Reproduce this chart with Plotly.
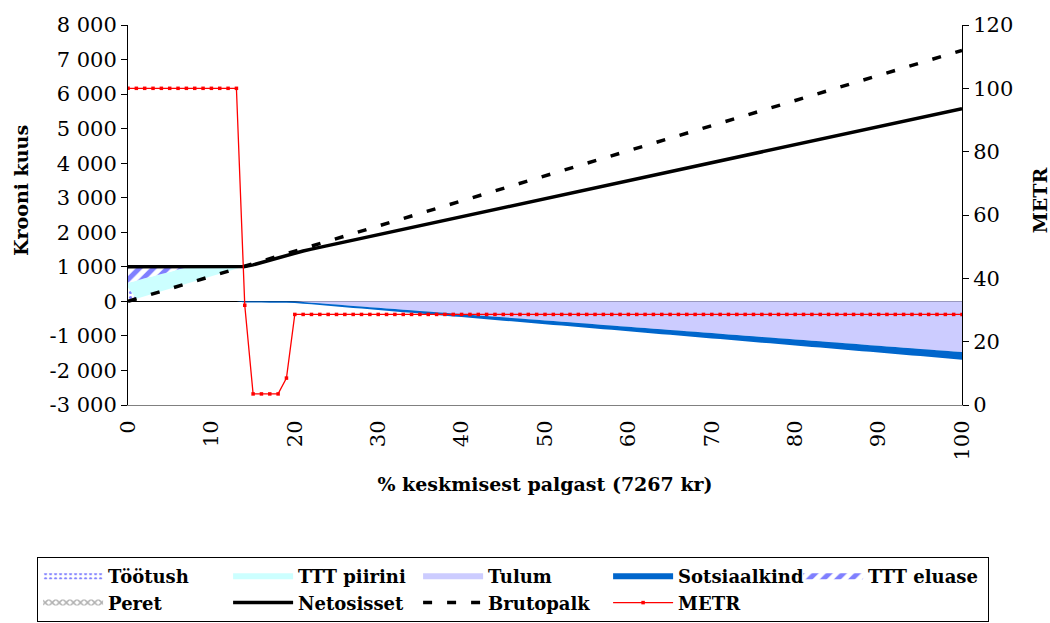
import plotly.graph_objects as go

# x categories: share of the average wage (%), 0..100
pct = list(range(0, 101))

# Gross wage, kroons per month
brutopalk = [
    0, 73, 145, 218, 291, 363, 436, 509, 581, 654,
    727, 799, 872, 945, 1017, 1090, 1163, 1235, 1308, 1381,
    1453, 1526, 1599, 1671, 1744, 1817, 1889, 1962, 2035, 2107,
    2180, 2253, 2325, 2398, 2471, 2543, 2616, 2689, 2761, 2834,
    2907, 2979, 3052, 3125, 3197, 3270, 3343, 3415, 3488, 3561,
    3634, 3706, 3779, 3852, 3924, 3997, 4070, 4142, 4215, 4288,
    4360, 4433, 4506, 4578, 4651, 4724, 4796, 4869, 4942, 5014,
    5087, 5160, 5232, 5305, 5378, 5450, 5523, 5596, 5668, 5741,
    5814, 5886, 5959, 6032, 6104, 6177, 6250, 6322, 6395, 6468,
    6540, 6613, 6686, 6758, 6831, 6904, 6976, 7049, 7122, 7194,
    7267,
]

# Net income
netosisset = [
    1000, 1000, 1000, 1000, 1000, 1000, 1000, 1000, 1000, 1000,
    1000, 1000, 1000, 1000, 1007, 1057, 1128, 1198, 1269, 1340,
    1407, 1459, 1512, 1564, 1616, 1668, 1720, 1772, 1825, 1877,
    1929, 1981, 2033, 2085, 2138, 2190, 2242, 2294, 2346, 2398,
    2451, 2503, 2555, 2607, 2659, 2711, 2763, 2816, 2868, 2920,
    2972, 3024, 3076, 3129, 3181, 3233, 3285, 3337, 3389, 3442,
    3494, 3546, 3598, 3650, 3702, 3755, 3807, 3859, 3911, 3963,
    4015, 4068, 4120, 4172, 4224, 4276, 4328, 4381, 4433, 4485,
    4537, 4589, 4641, 4694, 4746, 4798, 4850, 4902, 4954, 5007,
    5059, 5111, 5163, 5215, 5267, 5320, 5372, 5424, 5476, 5528,
    5580,
]

# Income tax (negative)
tulum = [
    0, 0, 0, 0, 0, 0, 0, 0, 0, 0,
    0, 0, 0, 0, 0, 0, 0, 0, 0, 0,
    -2, -21, -39, -57, -76, -94, -113, -131, -149, -167,
    -186, -204, -222, -241, -259, -277, -296, -314, -332, -351,
    -369, -387, -406, -424, -442, -461, -479, -497, -516, -534,
    -552, -571, -589, -607, -626, -644, -662, -681, -699, -717,
    -736, -754, -772, -791, -809, -827, -846, -864, -882, -901,
    -919, -937, -956, -974, -992, -1011, -1029, -1047, -1066, -1084,
    -1102, -1121, -1139, -1157, -1175, -1194, -1212, -1230, -1249, -1267,
    -1285, -1304, -1322, -1340, -1359, -1377, -1395, -1414, -1432, -1450,
    -1469,
]

# Social insurance contributions (negative)
sotsiaalkind = [
    0, 0, 0, 0, 0, 0, 0, 0, 0, 0,
    0, 0, 0, 0, -31, -33, -35, -37, -39, -41,
    -44, -46, -48, -50, -52, -55, -57, -59, -61, -63,
    -65, -68, -70, -72, -74, -76, -78, -81, -83, -85,
    -87, -89, -92, -94, -96, -98, -100, -102, -105, -107,
    -109, -111, -113, -116, -118, -120, -122, -124, -126, -129,
    -131, -133, -135, -137, -140, -142, -144, -146, -148, -150,
    -153, -155, -157, -159, -161, -164, -166, -168, -170, -172,
    -174, -177, -179, -181, -183, -185, -187, -190, -192, -194,
    -196, -198, -201, -203, -205, -207, -209, -211, -214, -216,
    -218,
]

# Marginal effective tax rate, %
metr = [
    100, 100, 100, 100, 100, 100, 100, 100, 100, 100,
    100, 100, 100, 100, 31.5, 3.5, 3.5, 3.5, 3.5, 8.5,
    28.6, 28.6, 28.6, 28.6, 28.6, 28.6, 28.6, 28.6, 28.6, 28.6,
    28.6, 28.6, 28.6, 28.6, 28.6, 28.6, 28.6, 28.6, 28.6, 28.6,
    28.6, 28.6, 28.6, 28.6, 28.6, 28.6, 28.6, 28.6, 28.6, 28.6,
    28.6, 28.6, 28.6, 28.6, 28.6, 28.6, 28.6, 28.6, 28.6, 28.6,
    28.6, 28.6, 28.6, 28.6, 28.6, 28.6, 28.6, 28.6, 28.6, 28.6,
    28.6, 28.6, 28.6, 28.6, 28.6, 28.6, 28.6, 28.6, 28.6, 28.6,
    28.6, 28.6, 28.6, 28.6, 28.6, 28.6, 28.6, 28.6, 28.6, 28.6,
    28.6, 28.6, 28.6, 28.6, 28.6, 28.6, 28.6, 28.6, 28.6, 28.6,
    28.6,
]

# Benefits at the low end (0..14 %), stacked on top of the gross wage
pct_low = [0, 1, 2, 3, 4, 5, 6, 7, 8, 9, 10, 11, 12, 13, 14]
bruto_low = [0, 73, 145, 218, 291, 363, 436, 509, 581, 654, 727, 799, 872, 945, 1017]
tootush = [400, 0, 0, 0, 0, 0, 0, 0, 0, 0, 0, 0, 0, 0, 0]
ttt_piirini = [140, 527, 525, 512, 499, 487, 484, 471, 419, 346, 273, 201, 128, 55, 0]
ttt_eluase = [460, 400, 330, 270, 210, 150, 80, 20, 0, 0, 0, 0, 0, 0, 0]
peret = [0, 0, 0, 0, 0, 0, 0, 0, 0, 0, 0, 0, 0, 0, 0]

# Axis ticks
y_left_vals = [-3000, -2000, -1000, 0, 1000, 2000, 3000, 4000, 5000, 6000, 7000, 8000]
y_left_text = ["-3 000", "-2 000", "-1 000", "0", "1 000", "2 000", "3 000",
               "4 000", "5 000", "6 000", "7 000", "8 000"]
y_right_vals = [0, 20, 40, 60, 80, 100, 120]
x_tick_vals = [0, 10, 20, 30, 40, 50, 60, 70, 80, 90, 100]

FONT = "DejaVu Serif"

fig = go.Figure()

# invisible base of the positive stack (gross wage)
fig.add_trace(go.Scatter(
    x=pct_low, y=bruto_low, stackgroup="pos", mode="none",
    fillcolor="rgba(0,0,0,0)", showlegend=False, hoverinfo="skip",
))
fig.add_trace(go.Scatter(
    x=pct_low, y=tootush, name="Töötush", stackgroup="pos", mode="none",
    fillcolor="rgba(0,0,0,0)",
    fillpattern=dict(shape=".", fgcolor="#0000FF", bgcolor="white",
                     size=5, solidity=0.3),
))
fig.add_trace(go.Scatter(
    x=pct_low, y=ttt_piirini, name="TTT piirini", stackgroup="pos", mode="none",
    fillcolor="#CCFFFF",
))
fig.add_trace(go.Scatter(
    x=pct, y=tulum, name="Tulum", stackgroup="neg", mode="none",
    fillcolor="#CCCCFF",
))
fig.add_trace(go.Scatter(
    x=pct, y=sotsiaalkind, name="Sotsiaalkind", stackgroup="neg", mode="none",
    fillcolor="#0066CC",
))
fig.add_trace(go.Scatter(
    x=pct_low, y=ttt_eluase, name="TTT eluase", stackgroup="pos", mode="none",
    fillcolor="rgba(0,0,0,0)",
    fillpattern=dict(shape="/", fgcolor="#0000FF", bgcolor="white",
                     size=10, solidity=0.5),
))
fig.add_trace(go.Scatter(
    x=pct_low, y=peret, name="Peret", stackgroup="pos", mode="none",
    fillcolor="rgba(0,0,0,0)",
    fillpattern=dict(shape="x", fgcolor="#606060", bgcolor="white",
                     size=5, solidity=0.5),
))
fig.add_trace(go.Scatter(
    x=pct, y=netosisset, name="Netosisset", mode="lines",
    line=dict(color="black", width=3.5),
))
fig.add_trace(go.Scatter(
    x=pct, y=brutopalk, name="Brutopalk", mode="lines",
    line=dict(color="black", width=3.5, dash="9px,15px"),
))
fig.add_trace(go.Scatter(
    x=pct, y=metr, name="METR", mode="lines+markers", yaxis="y2",
    line=dict(color="#FF0000", width=1.3),
    marker=dict(color="#FF0000", size=3.5, symbol="square"),
))

title_font = dict(family=FONT, size=19, weight="bold", color="black")

fig.update_layout(
    width=1050, height=623,
    margin=dict(l=128, r=88, t=25, b=218, autoexpand=False),
    plot_bgcolor="white", paper_bgcolor="white",
    font=dict(family=FONT, color="black", size=21),
    showlegend=True,
    legend=dict(
        orientation="h",
        x=-0.109, xanchor="left", y=-0.40, yanchor="top",
        traceorder="normal",
        font=dict(family=FONT, size=18, weight="bold", color="black"),
        bordercolor="black", borderwidth=1, bgcolor="white",
        entrywidth=115, entrywidthmode="pixels", itemwidth=60,
        tracegroupgap=0,
    ),
    xaxis=dict(
        range=[0, 100], tickmode="array", tickvals=x_tick_vals,
        tickangle=-90, ticks="outside", ticklen=6, tickcolor="rgba(0,0,0,0)",
        showline=True, linecolor="#808080", linewidth=1,
        showgrid=False, zeroline=False,
        tickfont=dict(family=FONT, size=21),
        title=dict(text="% keskmisest palgast (7267 kr)", standoff=18,
                   font=title_font),
    ),
    yaxis=dict(
        range=[-3000, 8000], tickmode="array", tickvals=y_left_vals,
        ticktext=y_left_text, ticks="outside", ticklen=6, tickcolor="black",
        showline=True, linecolor="black", linewidth=1,
        showgrid=False, zeroline=True, zerolinecolor="black", zerolinewidth=1,
        tickfont=dict(family=FONT, size=21),
    ),
    yaxis2=dict(
        range=[0, 120], tickmode="array", tickvals=y_right_vals,
        overlaying="y", side="right", ticks="outside", ticklen=6,
        tickcolor="black", showline=True, linecolor="black", linewidth=1,
        showgrid=False, zeroline=False,
        tickfont=dict(family=FONT, size=21),
    ),
    annotations=[
        dict(text="Krooni kuus", xref="paper", yref="paper",
             x=-0.1283, y=0.566, xanchor="center", yanchor="middle",
             textangle=-90, showarrow=False, font=title_font),
        dict(text="METR", xref="paper", yref="paper",
             x=1.0935, y=0.539, xanchor="center", yanchor="middle",
             textangle=-90, showarrow=False, font=title_font),
    ],
)

fig.write_html("out.html")
